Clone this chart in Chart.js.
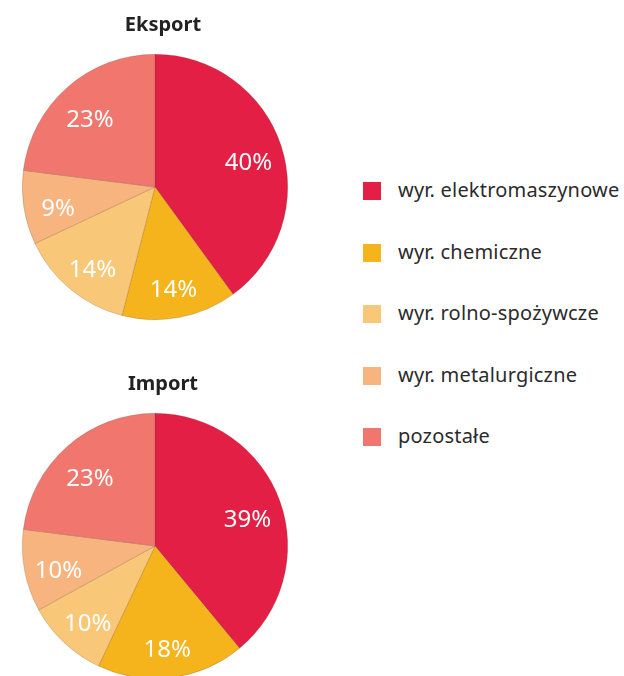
<!DOCTYPE html>
<html>
<head>
<meta charset="utf-8">
<script src="https://cdn.jsdelivr.net/npm/chart.js@4"></script>
<style>
  html, body { margin: 0; padding: 0; background: #fff; width: 624px; height: 676px; overflow: hidden; }
  canvas { position: absolute; left: 0; }
  #eksport { top: 0; }
  #import { top: 359px; }
  #legend { position: absolute; left: 363px; top: 182px; font-family: "Noto Sans", sans-serif; font-size: 20px; letter-spacing: 0.2px; color: #2b2b2b; }
  .item { position: absolute; left: 0; white-space: nowrap; }
  .item i { position: absolute; left: 0; top: 0; width: 18px; height: 18px; }
  .item span { position: absolute; left: 35px; top: -5px; line-height: 26px; }
</style>
</head>
<body>
<canvas id="eksport" width="326" height="322"></canvas>
<canvas id="import" width="326" height="322"></canvas>
<div id="legend"></div>
<script>
// categories and colours (start at 12 o'clock, clockwise)
const CATEGORIES = ["wyr. elektromaszynowe", "wyr. chemiczne", "wyr. rolno-spożywcze", "wyr. metalurgiczne", "pozostałe"];
const COLORS = ["#e31f45", "#f5b31c", "#f8c878", "#f7b47f", "#f1766e"];
const EKSPORT = [40, 14, 14, 9, 23];
const IMPORT = [39, 18, 10, 10, 23];

const $ = (id) => document.getElementById(id);

// white % labels inside slices
const pctLabels = {
  id: "pctLabels",
  afterDatasetsDraw(chart) {
    const ctx = chart.ctx;
    const data = chart.data.datasets[0].data;
    ctx.save();
    ctx.fillStyle = "#fff";
    ctx.font = "24px 'Noto Sans', sans-serif";
    ctx.textAlign = "center";
    ctx.textBaseline = "middle";
    chart.getDatasetMeta(0).data.forEach((arc, i) => {
      const p = arc.getProps(["x", "y", "startAngle", "endAngle", "outerRadius"], true);
      const mid = (p.startAngle + p.endAngle) / 2;
      const r = p.outerRadius * 0.74;
      ctx.fillText(data[i] + "%", p.x + Math.cos(mid) * r, p.y + Math.sin(mid) * r + 7);
    });
    ctx.restore();
  },
};

// title drawn a bit right of the pie centre, like the original
const pieTitle = {
  id: "pieTitle",
  afterDraw(chart, args, opts) {
    const ctx = chart.ctx;
    ctx.save();
    ctx.fillStyle = "#222";
    ctx.font = "bold 20px 'Noto Sans', sans-serif";
    ctx.textAlign = "center";
    ctx.textBaseline = "alphabetic";
    ctx.fillText(opts.text, chart.width / 2, 31);
    ctx.restore();
  },
};

function pie(id, title, values) {
  return new Chart($(id), {
    type: "pie",
    data: {
      labels: CATEGORIES,
      datasets: [{ data: values, backgroundColor: COLORS, borderWidth: 0.6, borderColor: "rgba(90,60,40,0.35)" }],
    },
    options: {
      responsive: false,
      animation: false,
      devicePixelRatio: 1,
      layout: { padding: { left: 0, right: 16, top: 54, bottom: 2 } },
      plugins: {
        legend: { display: false },
        tooltip: { enabled: false },
        title: { display: false },
        pieTitle: { text: title },
      },
    },
    plugins: [pctLabels, pieTitle],
  });
}

pie("eksport", "Eksport", EKSPORT);
pie("import", "Import", IMPORT);

// legend
CATEGORIES.forEach((name, i) => {
  const d = document.createElement("div");
  d.className = "item";
  d.style.top = (i * 61.5) + "px";
  d.innerHTML = `<i style="background:${COLORS[i]}"></i><span>${name}</span>`;
  $("legend").appendChild(d);
});
</script>
</body>
</html>
